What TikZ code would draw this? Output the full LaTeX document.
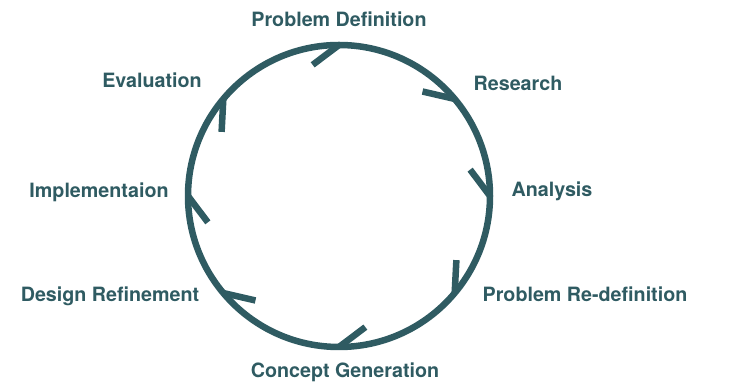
\documentclass[tikz,border=0pt]{standalone}
\usepackage{fontspec}
\setmainfont{TeX Gyre Heros}
\definecolor{cycleteal}{RGB}{47,91,98}

\begin{document}
\begin{tikzpicture}[x=1pt, y=1pt,
  ring/.style={draw=cycleteal, line width=6.5pt},
  stage/.style={text=cycleteal, font=\fontsize{19.7}{22}\selectfont\bfseries, inner sep=0pt}]
  \useasboundingbox (0,0) rectangle (737,385);
  \coordinate (c) at (339,189);

  % the cycle
  \draw[ring] (c) circle (151);

  % half arrow heads, clockwise
  \foreach \a in {90,40,0,-40,-90,-140,180,140}
    \draw[ring, shift={(c)}] (\a:151) -- ++(\a+127:33);

  % stages
  \node[stage] (def) at (339,366) {Problem Definition};
  \node[stage] (res) at (518,302) {Research};
  \node[stage] (ana) at (552,194) {Analysis};
  \node[stage] (redef) at (585,91) {Problem Re-definition};
  \node[stage] (gen) at (345,13) {Concept Generation};
  \node[stage] (ref) at (110,89) {Design Refinement};
  \node[stage] (imp) at (99,193) {Implementaion};
  \node[stage] (eva) at (152,305) {Evaluation};
\end{tikzpicture}
\end{document}
